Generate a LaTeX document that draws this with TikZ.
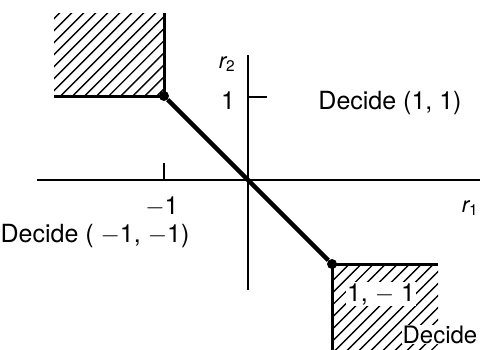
\documentclass[tikz,border=0pt]{standalone}
\usepackage{fontspec}
\setmainfont{TeX Gyre Heros}
\usetikzlibrary{patterns.meta}
\begin{document}
\begin{tikzpicture}[x=1pt,y=-1pt,every node/.style={font=\fontsize{25}{30}\selectfont,inner sep=1pt},
  axis/.style={line width=2pt},
  hatch/.style={pattern={Lines[angle=45,distance=8.5pt,line width=1.4pt]}},
  dot/.style={circle,fill,inner sep=0pt,minimum size=10pt}]
\path[use as bounding box,clip] (0,0) rectangle (480,349);
% hatched decision regions
\fill[hatch] (54,13) rectangle (164,96);
\fill[hatch] (332,264) rectangle (438,360);
\draw[line width=3pt] (164,13)--(164,96)--(54,96);
\draw[line width=3pt] (438,264)--(332,264)--(332,360);
% axes
\coordinate (w) at (37,180); \coordinate (e) at (480,180);
\coordinate (n) at (248,55); \coordinate (s) at (248,290);
\draw[axis] (w)--(e);
\draw[axis] (n)--(s);
\draw[line width=1.3pt] (164,180)--(164,163);
\draw[line width=1.3pt] (248,97)--(267,97);
\node at (162,207) {$-$1};
\node at (228,101) {1};
\node at (227,64) {\fontsize{22}{26}\selectfont\itshape r\textsubscript{\upshape 2}};
\node at (470,208) {\fontsize{22}{26}\selectfont\itshape r\textsubscript{\upshape 1}};
% boundary
\node[dot] (A) at (164,96) {};
\node[dot] (B) at (332,264) {};
\draw[line width=4.5pt] (A)--(B);
% labels
\node at (390,103) {Decide (1, 1)};
\node at (95,236) {Decide ( $-$1, $-$1)};
\node[fill=white] (c) at (381,294) {1, $-$ 1};
\node[fill=white,inner sep=0.5pt,anchor=base east,font=\fontsize{24}{28}\selectfont] at (478,343) {Decide};
\end{tikzpicture}
\end{document}
